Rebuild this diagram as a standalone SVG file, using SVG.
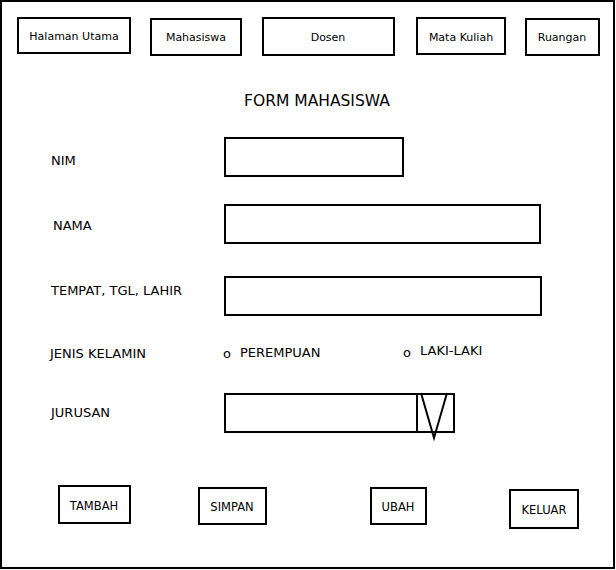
<svg xmlns="http://www.w3.org/2000/svg" width="616" height="570" viewBox="0 0 616 570">
<style>
.b{fill:#fff;stroke:#000;stroke-width:2}
.t{font-family:"DejaVu Sans",Verdana,sans-serif;font-size:12px;fill:#000}
.c{text-anchor:middle}
.l{font-size:13px}
.n{font-size:11px}
.s{font-size:11.5px}
</style>
<rect x="1" y="1" width="613" height="567" fill="#fff" stroke="#000" stroke-width="2"/>
<g id="nav-halaman"><rect class="b" x="18" y="18" width="112" height="35"/><text class="t c n" x="74" y="40">Halaman Utama</text></g>
<g id="nav-mahasiswa"><rect class="b" x="151" y="19" width="90" height="36"/><text class="t c n" x="196" y="41">Mahasiswa</text></g>
<g id="nav-dosen"><rect class="b" x="263" y="18" width="131" height="37"/><text class="t c n" x="328" y="41">Dosen</text></g>
<g id="nav-matakuliah"><rect class="b" x="417" y="18" width="88" height="36"/><text class="t c n" x="461" y="41">Mata Kuliah</text></g>
<g id="nav-ruangan"><rect class="b" x="526" y="19" width="73" height="36"/><text class="t c n" x="562" y="41">Ruangan</text></g>
<g id="title"><text class="t c" x="317" y="106" style="font-size:15.5px">FORM MAHASISWA</text></g>
<g id="lbl-nim"><text class="t l" x="51" y="165">NIM</text></g>
<g id="lbl-nama"><text class="t l" x="53" y="230">NAMA</text></g>
<g id="lbl-ttl"><text class="t l" x="51" y="295">TEMPAT, TGL, LAHIR</text></g>
<g id="lbl-jk"><text class="t l" x="50" y="358">JENIS KELAMIN</text></g>
<g id="lbl-jurusan"><text class="t l" x="51" y="417">JURUSAN</text></g>
<g id="in-nim"><rect class="b" x="225" y="138" width="178" height="38"/></g>
<g id="in-nama"><rect class="b" x="225" y="205" width="315" height="38"/></g>
<g id="in-ttl"><rect class="b" x="225" y="277" width="316" height="38"/></g>
<g id="radio-p"><text class="t l" x="223" y="358">o</text><text class="t l" x="240" y="357">PEREMPUAN</text></g>
<g id="radio-l"><text class="t l" x="403" y="357">o</text><text class="t l" x="420" y="355">LAKI-LAKI</text></g>
<g id="in-jurusan"><rect class="b" x="225" y="394" width="229" height="38"/><line x1="417" y1="394" x2="417" y2="432" stroke="#000" stroke-width="2"/><polyline points="421,393 434,438 447,393" fill="none" stroke="#000" stroke-width="2"/></g>
<g id="btn-tambah"><rect class="b" x="59" y="486" width="71" height="37"/><text class="t c s" x="94" y="510">TAMBAH</text></g>
<g id="btn-simpan"><rect class="b" x="199" y="488" width="67" height="36"/><text class="t c s" x="232" y="511">SIMPAN</text></g>
<g id="btn-ubah"><rect class="b" x="371" y="488" width="55" height="36"/><text class="t c s" x="398" y="511">UBAH</text></g>
<g id="btn-keluar"><rect class="b" x="510" y="490" width="68" height="38"/><text class="t c s" x="544" y="514">KELUAR</text></g>
</svg>
